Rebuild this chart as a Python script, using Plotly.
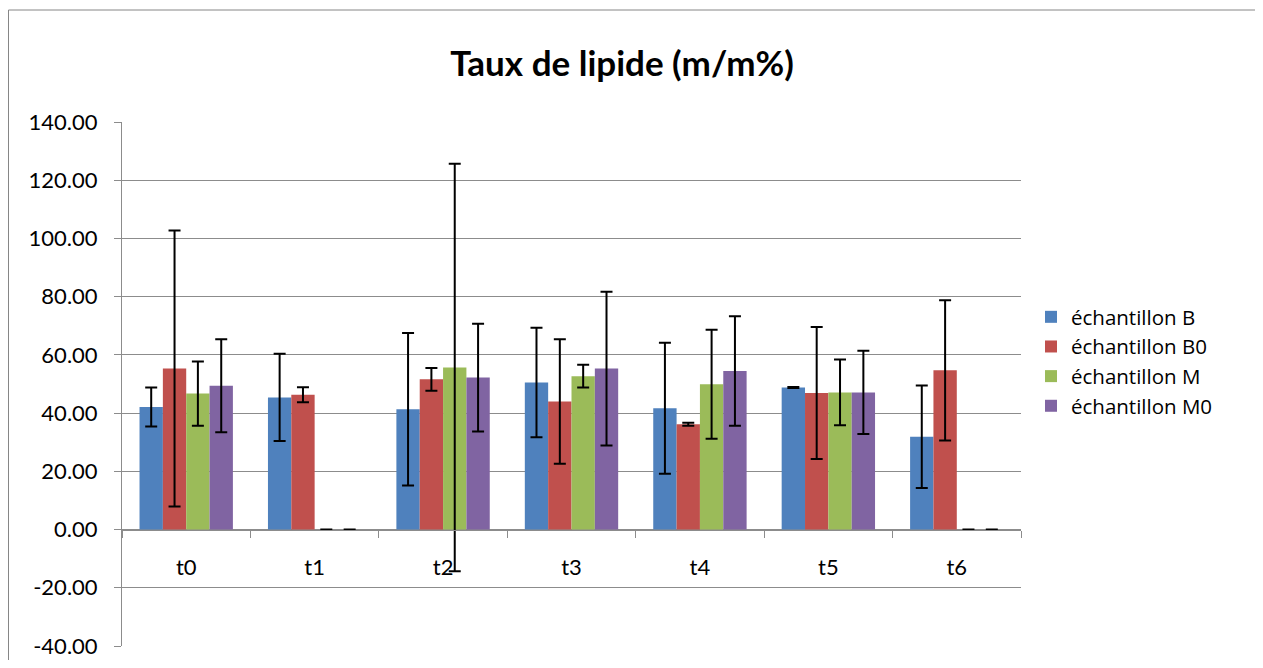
import plotly.graph_objects as go

categories = ["t0", "t1", "t2", "t3", "t4", "t5", "t6"]
series_names = ["échantillon B", "échantillon B0", "échantillon M", "échantillon M0"]
vals_B = [42.1, 45.4, 41.3, 50.5, 41.7, 48.8, 31.9]
vals_B0 = [55.3, 46.3, 51.6, 44.0, 36.2, 46.9, 54.7]
vals_M = [46.7, 0.0, 55.7, 52.7, 49.9, 47.1, 0.0]
vals_M0 = [49.4, 0.0, 52.2, 55.3, 54.5, 47.1, 0.0]
err_B = [6.7, 15.0, 26.2, 18.8, 22.5, 0.2, 17.6]
err_B0 = [47.4, 2.6, 3.9, 21.4, 0.5, 22.7, 24.1]
err_M = [11.0, 0.0, 70.0, 3.9, 18.7, 11.3, 0.0]
err_M0 = [16.0, 0.0, 18.5, 26.4, 18.8, 14.3, 0.0]
colors = ["#4F81BD", "#C0504D", "#9BBB59", "#8064A2"]
y_ticks = [-40, -20, 0, 20, 40, 60, 80, 100, 120, 140]

FONT = "Lato, 'Open Sans', sans-serif"
LEG_FONT = "'Open Sans', Lato, sans-serif"

fig = go.Figure()
for name, vals, errs, col in zip(series_names, [vals_B, vals_B0, vals_M, vals_M0],
                                 [err_B, err_B0, err_M, err_M0], colors):
    fig.add_trace(go.Bar(
        x=categories, y=vals, name=name,
        marker=dict(color=col, line=dict(width=0)),
        error_y=dict(type="data", array=errs, visible=True, color="black",
                     thickness=2, width=6),
    ))

# page is offset by the 8px body margin; keep figure inside the viewport
W, H = 1247, 652
L, R, T, B = 114, 234, 114, 14
pw, ph = W - L - R, H - T - B
zero_paper = 40.0 / 180.0

fig.update_layout(
    width=W, height=H,
    margin=dict(l=L, r=R, t=T, b=B, autoexpand=False),
    paper_bgcolor="white", plot_bgcolor="white",
    barmode="group", bargap=0.273, bargroupgap=0,
    font=dict(family=FONT, size=22, color="black"),
    title=dict(text="<b>Taux de lipide (m/m%)</b>", x=614 / W,
               xanchor="center", y=1 - 56 / H, yanchor="middle",
               font=dict(family=FONT, size=35, color="black")),
    legend=dict(x=(1023 - L) / pw, y=(H - B - 289) / ph, xanchor="left", yanchor="top",
                font=dict(family=LEG_FONT, size=20.5), tracegroupgap=0,
                itemwidth=30, bgcolor="rgba(0,0,0,0)"),
    showlegend=True,
    yaxis=dict(range=[-40, 140], tickvals=y_ticks, ticktext=[f"{v:.2f}" for v in y_ticks],
               showgrid=True, gridcolor="#8C8C8C", gridwidth=1, zeroline=False,
               showline=True, linecolor="#8C8C8C", linewidth=1,
               ticks="outside", ticklen=7, tickcolor="#8C8C8C",
               tickfont=dict(family=FONT, size=22, color="black"),
               ticklabelstandoff=12, automargin=False),
    xaxis=dict(anchor="free", position=zero_paper, showline=True, linecolor="#8C8C8C",
               linewidth=1, ticks="outside", tickson="boundaries", ticklen=7,
               tickcolor="#8C8C8C", showgrid=False,
               tickfont=dict(family=FONT, size=22, color="black"),
               ticklabelstandoff=18, automargin=False),
)

fig.add_shape(type="rect", xref="paper", yref="paper",
              x0=(0.5 - L) / pw, x1=(W + 20 - L) / pw, y0=(H - B - 700) / ph, y1=(H - B - 2) / ph,
              line=dict(color="#868686", width=1), fillcolor="rgba(0,0,0,0)", layer="below")

fig.write_html("out.html")
